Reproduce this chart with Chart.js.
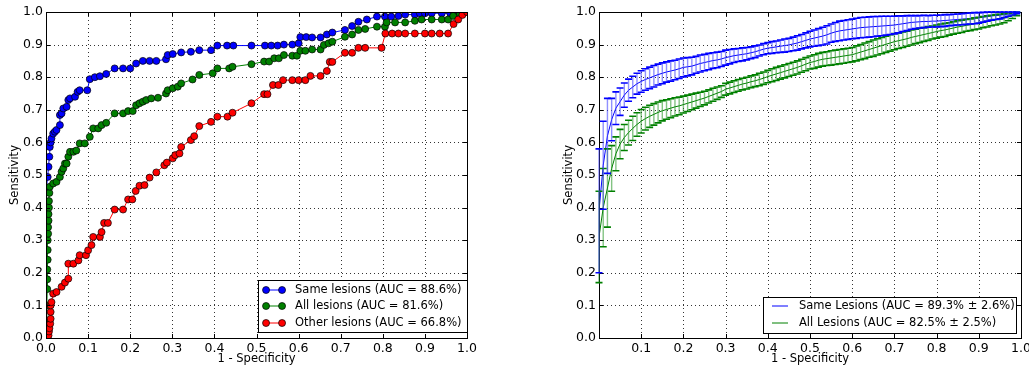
<!DOCTYPE html>
<html>
<head>
<meta charset="utf-8">
<script src="https://cdn.jsdelivr.net/npm/chart.js@4/dist/chart.umd.min.js"></script>
<style>
html, body { margin: 0; padding: 0; background: #fff; overflow: hidden; width: 1029px; height: 369px; }
#left { position: absolute; left: 0; top: 0; }
#right { position: absolute; left: 540px; top: 0; }
</style>
</head>
<body>
<canvas id="left" width="480" height="369"></canvas>
<canvas id="right" width="500" height="369"></canvas>
<script>
// ---- left panel: ROC points ----
var sameFpr = [0, 0, 0.002, 0.004, 0.006, 0.008, 0.009, 0.011, 0.013, 0.017, 0.021, 0.025, 0.033, 0.033, 0.037, 0.041, 0.049, 0.053, 0.057, 0.069, 0.075, 0.08, 0.098, 0.104, 0.116, 0.128, 0.143, 0.163, 0.183, 0.2, 0.214, 0.23, 0.246, 0.262, 0.285, 0.289, 0.301, 0.321, 0.344, 0.364, 0.392, 0.407, 0.43, 0.445, 0.488, 0.52, 0.535, 0.55, 0.565, 0.585, 0.6, 0.604, 0.618, 0.632, 0.652, 0.667, 0.68, 0.71, 0.727, 0.742, 0.762, 0.786, 0.805, 0.82, 0.837, 0.853, 0.876, 0.888, 0.9, 0.916, 0.94, 0.96, 0.98, 0.994];
var sameTpr = [0, 0.45, 0.46, 0.494, 0.525, 0.556, 0.586, 0.6, 0.612, 0.627, 0.633, 0.638, 0.653, 0.684, 0.689, 0.704, 0.709, 0.73, 0.735, 0.74, 0.755, 0.76, 0.76, 0.794, 0.8, 0.803, 0.81, 0.827, 0.827, 0.827, 0.842, 0.85, 0.85, 0.85, 0.855, 0.868, 0.871, 0.876, 0.878, 0.883, 0.883, 0.897, 0.897, 0.897, 0.897, 0.897, 0.897, 0.897, 0.9, 0.9, 0.904, 0.923, 0.923, 0.922, 0.922, 0.931, 0.937, 0.945, 0.957, 0.97, 0.977, 0.986, 0.986, 0.986, 0.988, 0.992, 0.992, 0.996, 0.996, 0.996, 0.996, 0.996, 1.0, 1.0];

var allFpr = [0, 0.002, 0.002, 0.003, 0.003, 0.003, 0.004, 0.004, 0.004, 0.005, 0.005, 0.006, 0.006, 0.007, 0.007, 0.008, 0.009, 0.017, 0.025, 0.033, 0.037, 0.041, 0.045, 0.049, 0.053, 0.057, 0.065, 0.072, 0.08, 0.092, 0.104, 0.112, 0.124, 0.132, 0.143, 0.163, 0.183, 0.195, 0.206, 0.214, 0.222, 0.23, 0.238, 0.25, 0.266, 0.285, 0.289, 0.301, 0.313, 0.321, 0.348, 0.364, 0.396, 0.407, 0.435, 0.443, 0.488, 0.518, 0.53, 0.542, 0.553, 0.565, 0.585, 0.596, 0.604, 0.616, 0.632, 0.652, 0.66, 0.671, 0.68, 0.71, 0.727, 0.742, 0.758, 0.786, 0.805, 0.809, 0.829, 0.853, 0.876, 0.892, 0.916, 0.94, 0.955, 0.967, 0.983, 0.994];
var allTpr = [0, 0.05, 0.1, 0.15, 0.18, 0.21, 0.24, 0.27, 0.3, 0.32, 0.34, 0.36, 0.38, 0.4, 0.42, 0.445, 0.464, 0.474, 0.479, 0.494, 0.51, 0.52, 0.535, 0.535, 0.556, 0.571, 0.571, 0.575, 0.597, 0.597, 0.617, 0.643, 0.643, 0.653, 0.66, 0.689, 0.689, 0.696, 0.696, 0.714, 0.72, 0.725, 0.73, 0.735, 0.737, 0.75, 0.76, 0.766, 0.771, 0.781, 0.793, 0.807, 0.812, 0.827, 0.827, 0.832, 0.84, 0.848, 0.848, 0.858, 0.858, 0.868, 0.866, 0.866, 0.881, 0.881, 0.885, 0.885, 0.899, 0.904, 0.909, 0.924, 0.931, 0.945, 0.948, 0.955, 0.955, 0.968, 0.968, 0.968, 0.973, 0.977, 0.977, 0.977, 0.977, 0.988, 0.994, 1.0];

var otherFpr = [0, 0.006, 0.007, 0.008, 0.01, 0.011, 0.011, 0.011, 0.013, 0.017, 0.025, 0.037, 0.045, 0.053, 0.053, 0.065, 0.077, 0.08, 0.095, 0.1, 0.108, 0.112, 0.128, 0.132, 0.138, 0.147, 0.163, 0.183, 0.195, 0.205, 0.213, 0.222, 0.234, 0.246, 0.262, 0.281, 0.287, 0.301, 0.307, 0.317, 0.321, 0.344, 0.352, 0.364, 0.392, 0.407, 0.431, 0.443, 0.488, 0.518, 0.526, 0.539, 0.552, 0.563, 0.585, 0.6, 0.616, 0.628, 0.652, 0.667, 0.674, 0.68, 0.71, 0.727, 0.742, 0.758, 0.797, 0.806, 0.822, 0.837, 0.853, 0.876, 0.9, 0.916, 0.935, 0.955, 0.968, 0.979, 0.989, 1.0];
var otherTpr = [0, 0.008, 0.02, 0.03, 0.044, 0.059, 0.08, 0.1, 0.11, 0.136, 0.141, 0.157, 0.17, 0.182, 0.228, 0.228, 0.238, 0.254, 0.254, 0.269, 0.285, 0.31, 0.31, 0.325, 0.353, 0.353, 0.394, 0.394, 0.425, 0.425, 0.451, 0.467, 0.469, 0.492, 0.508, 0.53, 0.538, 0.551, 0.561, 0.566, 0.586, 0.607, 0.619, 0.65, 0.663, 0.679, 0.679, 0.691, 0.72, 0.748, 0.748, 0.776, 0.776, 0.791, 0.791, 0.791, 0.791, 0.804, 0.804, 0.819, 0.847, 0.847, 0.875, 0.875, 0.89, 0.89, 0.89, 0.934, 0.934, 0.934, 0.934, 0.934, 0.934, 0.934, 0.934, 0.934, 0.963, 0.977, 0.991, 1.0];

// ---- right panel: mean ROC with std error bars ----
var fprGrid = [0, 0.01, 0.02, 0.03, 0.04, 0.05, 0.06, 0.07, 0.08, 0.09, 0.1, 0.11, 0.12, 0.13, 0.14, 0.15, 0.16, 0.17, 0.18, 0.19, 0.2, 0.21, 0.22, 0.23, 0.24, 0.25, 0.26, 0.27, 0.28, 0.29, 0.3, 0.31, 0.32, 0.33, 0.34, 0.35, 0.36, 0.37, 0.38, 0.39, 0.4, 0.41, 0.42, 0.43, 0.44, 0.45, 0.46, 0.47, 0.48, 0.49, 0.5, 0.51, 0.52, 0.53, 0.54, 0.55, 0.56, 0.57, 0.58, 0.59, 0.6, 0.61, 0.62, 0.63, 0.64, 0.65, 0.66, 0.67, 0.68, 0.69, 0.7, 0.71, 0.72, 0.73, 0.74, 0.75, 0.76, 0.77, 0.78, 0.79, 0.8, 0.81, 0.82, 0.83, 0.84, 0.85, 0.86, 0.87, 0.88, 0.89, 0.9, 0.91, 0.92, 0.93, 0.94, 0.95, 0.96, 0.97, 0.98, 0.99, 1.0];
var sameMean = [0.39, 0.53, 0.62, 0.67, 0.705, 0.725, 0.745, 0.76, 0.77, 0.78, 0.787, 0.793, 0.798, 0.803, 0.808, 0.812, 0.816, 0.819, 0.822, 0.826, 0.83, 0.832, 0.834, 0.838, 0.842, 0.845, 0.848, 0.851, 0.853, 0.856, 0.86, 0.863, 0.866, 0.868, 0.87, 0.872, 0.875, 0.878, 0.882, 0.886, 0.889, 0.891, 0.893, 0.895, 0.897, 0.899, 0.902, 0.905, 0.909, 0.913, 0.917, 0.92, 0.923, 0.926, 0.93, 0.935, 0.939, 0.942, 0.944, 0.946, 0.948, 0.95, 0.952, 0.953, 0.954, 0.955, 0.956, 0.957, 0.958, 0.959, 0.96, 0.962, 0.964, 0.966, 0.968, 0.969, 0.97, 0.971, 0.971, 0.972, 0.972, 0.973, 0.974, 0.975, 0.976, 0.977, 0.978, 0.979, 0.98, 0.981, 0.982, 0.984, 0.986, 0.988, 0.989, 0.99, 0.992, 0.994, 0.996, 0.998, 1.0];
var sameErr = [0.19, 0.135, 0.115, 0.065, 0.05, 0.042, 0.037, 0.034, 0.033, 0.032, 0.033, 0.033, 0.033, 0.033, 0.032, 0.032, 0.031, 0.031, 0.03, 0.03, 0.029, 0.028, 0.027, 0.026, 0.026, 0.025, 0.025, 0.024, 0.024, 0.023, 0.023, 0.022, 0.021, 0.02, 0.02, 0.019, 0.018, 0.018, 0.017, 0.017, 0.017, 0.018, 0.018, 0.019, 0.02, 0.02, 0.021, 0.022, 0.022, 0.023, 0.024, 0.025, 0.026, 0.027, 0.028, 0.028, 0.029, 0.03, 0.03, 0.03, 0.03, 0.031, 0.031, 0.031, 0.031, 0.031, 0.03, 0.03, 0.029, 0.028, 0.027, 0.026, 0.024, 0.023, 0.021, 0.02, 0.019, 0.019, 0.018, 0.018, 0.018, 0.018, 0.018, 0.017, 0.017, 0.017, 0.017, 0.017, 0.017, 0.017, 0.016, 0.015, 0.014, 0.013, 0.012, 0.011, 0.009, 0.007, 0.005, 0.003, 0];
var allMean = [0.31, 0.4, 0.46, 0.52, 0.565, 0.595, 0.615, 0.63, 0.643, 0.655, 0.665, 0.673, 0.68, 0.686, 0.692, 0.697, 0.701, 0.705, 0.709, 0.712, 0.716, 0.72, 0.724, 0.728, 0.732, 0.736, 0.741, 0.746, 0.751, 0.756, 0.763, 0.767, 0.771, 0.775, 0.779, 0.782, 0.786, 0.789, 0.793, 0.797, 0.802, 0.806, 0.81, 0.814, 0.818, 0.822, 0.826, 0.83, 0.835, 0.84, 0.845, 0.848, 0.852, 0.855, 0.857, 0.859, 0.861, 0.863, 0.865, 0.867, 0.869, 0.873, 0.877, 0.881, 0.885, 0.889, 0.893, 0.897, 0.901, 0.905, 0.909, 0.912, 0.915, 0.918, 0.922, 0.925, 0.928, 0.931, 0.934, 0.937, 0.94, 0.943, 0.945, 0.948, 0.951, 0.954, 0.956, 0.959, 0.961, 0.964, 0.966, 0.969, 0.971, 0.974, 0.976, 0.978, 0.981, 0.985, 0.989, 0.994, 1.0];
var allErr = [0.14, 0.12, 0.12, 0.07, 0.052, 0.045, 0.04, 0.038, 0.037, 0.036, 0.036, 0.035, 0.034, 0.033, 0.032, 0.031, 0.03, 0.029, 0.028, 0.027, 0.026, 0.025, 0.024, 0.023, 0.022, 0.021, 0.02, 0.02, 0.019, 0.018, 0.018, 0.018, 0.018, 0.018, 0.018, 0.018, 0.018, 0.018, 0.019, 0.019, 0.019, 0.02, 0.02, 0.02, 0.02, 0.02, 0.02, 0.02, 0.02, 0.02, 0.02, 0.021, 0.021, 0.021, 0.021, 0.022, 0.022, 0.022, 0.022, 0.022, 0.022, 0.023, 0.023, 0.024, 0.024, 0.025, 0.025, 0.025, 0.025, 0.025, 0.025, 0.024, 0.024, 0.023, 0.023, 0.022, 0.022, 0.021, 0.021, 0.02, 0.02, 0.02, 0.02, 0.019, 0.019, 0.019, 0.019, 0.018, 0.018, 0.018, 0.018, 0.017, 0.017, 0.016, 0.016, 0.015, 0.014, 0.012, 0.009, 0.005, 0];

var leftLabels = ["Same lesions (AUC = 88.6%)", "All lesions (AUC = 81.6%)", "Other lesions (AUC = 66.8%)"];
var rightLabels = ["Same Lesions (AUC = 89.3% \u00b1 2.6%)", "All Lesions (AUC = 82.5% \u00b1 2.5%)"];
var yTicks = [0, 0.1, 0.2, 0.3, 0.4, 0.5, 0.6, 0.7, 0.8, 0.9, 1.0];

var BLUE = "#0000ff", GREEN = "#008000", RED = "#ff0000";
var FONT = "'DejaVu Sans', sans-serif";

function pts(xs, ys) {
    return xs.map(function(x, i) { return { x: x, y: ys[i] }; });
}

// dotted grid, frame and inward ticks, matplotlib style
var framePlugin = {
    id: "frame",
    beforeDatasetsDraw: function(chart) {
        var ctx = chart.ctx, a = chart.chartArea;
        var xs = chart.scales.x, ys = chart.scales.y;
        ctx.save();
        ctx.strokeStyle = "#000";
        ctx.lineWidth = 0.8;
        ctx.setLineDash([1, 3]);
        ctx.beginPath();
        yTicks.forEach(function(v) {
            var px = Math.round(xs.getPixelForValue(v)) + 0.5;
            var py = Math.round(ys.getPixelForValue(v)) + 0.5;
            ctx.moveTo(px, a.top); ctx.lineTo(px, a.bottom);
            ctx.moveTo(a.left, py); ctx.lineTo(a.right, py);
        });
        ctx.stroke();
        ctx.restore();
    },
    afterDatasetsDraw: function(chart) {
        var ctx = chart.ctx, a = chart.chartArea;
        var xs = chart.scales.x, ys = chart.scales.y;
        ctx.save();
        ctx.strokeStyle = "#000";
        ctx.lineWidth = 1;
        ctx.setLineDash([]);
        ctx.strokeRect(Math.round(a.left) + 0.5, Math.round(a.top) + 0.5,
                       Math.round(a.right - a.left), Math.round(a.bottom - a.top));
        ctx.beginPath();
        yTicks.forEach(function(v) {
            var px = Math.round(xs.getPixelForValue(v)) + 0.5;
            var py = Math.round(ys.getPixelForValue(v)) + 0.5;
            ctx.moveTo(px, a.bottom); ctx.lineTo(px, a.bottom - 4);
            ctx.moveTo(px, a.top); ctx.lineTo(px, a.top + 4);
            ctx.moveTo(a.left, py); ctx.lineTo(a.left + 4, py);
            ctx.moveTo(a.right, py); ctx.lineTo(a.right - 4, py);
        });
        ctx.stroke();
        ctx.restore();
    }
};

// error bars for the right panel
var errorBarPlugin = {
    id: "errbars",
    afterDatasetsDraw: function(chart) {
        var ctx = chart.ctx, xs = chart.scales.x, ys = chart.scales.y;
        var sets = chart.data.datasets.slice().reverse();
        ctx.save();
        sets.forEach(function(ds) {
            if (!ds.errMean) return;
            ds.errX.forEach(function(x, i) {
                var e = ds.errVal[i];
                if (!e) return;
                var px = xs.getPixelForValue(x);
                var top = ys.getPixelForValue(Math.min(ds.errMean[i] + e, 1));
                var bot = ys.getPixelForValue(ds.errMean[i] - e);
                ctx.strokeStyle = ds.barColor;
                ctx.lineWidth = 1.4;
                ctx.beginPath();
                ctx.moveTo(px, top); ctx.lineTo(px, bot);
                ctx.stroke();
                ctx.strokeStyle = ds.borderColor;
                ctx.lineWidth = 1.6;
                ctx.beginPath();
                ctx.moveTo(px - 3.5, top); ctx.lineTo(px + 3.5, top);
                ctx.moveTo(px - 3.5, bot); ctx.lineTo(px + 3.5, bot);
                ctx.stroke();
            });
        });
        ctx.restore();
    }
};

// legend box inside the axes, lower right
var boxLegendPlugin = {
    id: "boxLegend",
    afterDraw: function(chart, args, opts) {
        var ctx = chart.ctx, a = chart.chartArea;
        var x0 = a.right - opts.right - opts.width;
        var y0 = a.bottom - opts.bottom - opts.height;
        ctx.save();
        ctx.fillStyle = "#fff";
        ctx.fillRect(x0, y0, opts.width, opts.height);
        ctx.strokeStyle = "#000";
        ctx.lineWidth = 1;
        ctx.strokeRect(Math.round(x0) + 0.5, Math.round(y0) + 0.5, opts.width, opts.height);
        ctx.font = "11.5px " + FONT;
        ctx.textBaseline = "middle";
        var items = chart.data.datasets.slice().sort(function(p, q) { return p.legendRank - q.legendRank; });
        items.forEach(function(ds, i) {
            var y = y0 + opts.rows[i];
            ctx.strokeStyle = ds.borderColor;
            ctx.lineWidth = 1;
            ctx.beginPath();
            ctx.moveTo(x0 + opts.lineFrom, y); ctx.lineTo(x0 + opts.lineTo, y);
            ctx.stroke();
            if (opts.markers) {
                [opts.lineFrom, opts.lineTo].forEach(function(mx) {
                    ctx.beginPath();
                    ctx.arc(x0 + mx, y, 3.5, 0, Math.PI * 2);
                    ctx.fillStyle = ds.pointBackgroundColor;
                    ctx.fill();
                    ctx.lineWidth = 0.7;
                    ctx.strokeStyle = "#000";
                    ctx.stroke();
                });
            }
            ctx.fillStyle = "#000";
            ctx.fillText(ds.label, x0 + opts.textX, y);
        });
        ctx.restore();
    }
};

function axes(leftWidth, xTickCb) {
    return {
        x: {
            type: "linear", min: 0, max: 1,
            grid: { display: false, drawTicks: false },
            border: { display: false },
            ticks: { stepSize: 0.1, padding: 3, color: "#000", font: { family: FONT, size: 12.5 },
                     callback: xTickCb, maxRotation: 0, autoSkip: false },
            title: { display: true, text: "1 - Specificity", color: "#000", padding: { top: 0, bottom: 3 },
                     font: { family: FONT, size: 11.5 } },
            afterFit: function(s) { s.height = 31; }
        },
        y: {
            type: "linear", min: 0, max: 1,
            grid: { display: false, drawTicks: false },
            border: { display: false },
            ticks: { stepSize: 0.1, padding: 3, color: "#000", font: { family: FONT, size: 12.5 },
                     callback: function(v) { return v.toFixed(1); } },
            title: { display: true, text: "Sensitivity", color: "#000", padding: { top: 3, bottom: 0 },
                     font: { family: FONT, size: 11.5 } },
            afterFit: function(s) { s.width = leftWidth; }
        }
    };
}

function rocSet(label, xs, ys, color, order, rank) {
    return {
        label: label, data: pts(xs, ys), showLine: true,
        borderColor: color, borderWidth: 1, backgroundColor: color,
        pointBackgroundColor: color, pointBorderColor: "#000", pointBorderWidth: 0.7,
        pointRadius: 3.5, pointHoverRadius: 3.5, tension: 0, order: order, legendRank: rank
    };
}

new Chart(document.getElementById("left"), {
    type: "scatter",
    data: {
        datasets: [
            rocSet(leftLabels[0], sameFpr, sameTpr, BLUE, 3, 0),
            rocSet(leftLabels[1], allFpr, allTpr, GREEN, 2, 1),
            rocSet(leftLabels[2], otherFpr, otherTpr, RED, 1, 2)
        ]
    },
    options: {
        responsive: false, animation: false, events: [],
        layout: { padding: { left: 5, top: 12, right: 11, bottom: 0 } },
        scales: axes(41, function(v) { return v.toFixed(1); }),
        plugins: {
            legend: { display: false }, tooltip: { enabled: false },
            boxLegend: { width: 209, height: 52, right: 0, bottom: 6, rows: [10, 26, 43],
                         lineFrom: 8, lineTo: 24, textX: 37, markers: true }
        }
    },
    plugins: [framePlugin, boxLegendPlugin]
});

function meanSet(label, mean, err, color, barColor, rank) {
    return {
        label: label, data: [{ x: 0, y: 0 }].concat(pts(fprGrid, mean)), showLine: true,
        borderColor: color, borderWidth: 1, pointRadius: 0, pointHoverRadius: 0, tension: 0,
        errX: fprGrid, errMean: mean, errVal: err, barColor: barColor, legendRank: rank
    };
}

new Chart(document.getElementById("right"), {
    type: "scatter",
    data: {
        datasets: [
            meanSet(rightLabels[0], sameMean, sameErr, BLUE, "rgba(70,70,255,0.6)", 0),
            meanSet(rightLabels[1], allMean, allErr, GREEN, "rgba(30,145,30,0.55)", 1)
        ]
    },
    options: {
        responsive: false, animation: false, events: [],
        layout: { padding: { left: 19, top: 12, right: 19, bottom: 0 } },
        scales: axes(40, function(v) { return v === 0 ? "" : v.toFixed(1); }),
        plugins: {
            legend: { display: false }, tooltip: { enabled: false },
            boxLegend: { width: 253, height: 36, right: 5, bottom: 5, rows: [9, 26],
                         lineFrom: 9, lineTo: 25, textX: 36, markers: false }
        }
    },
    plugins: [framePlugin, errorBarPlugin, boxLegendPlugin]
});
</script>
</body>
</html>
